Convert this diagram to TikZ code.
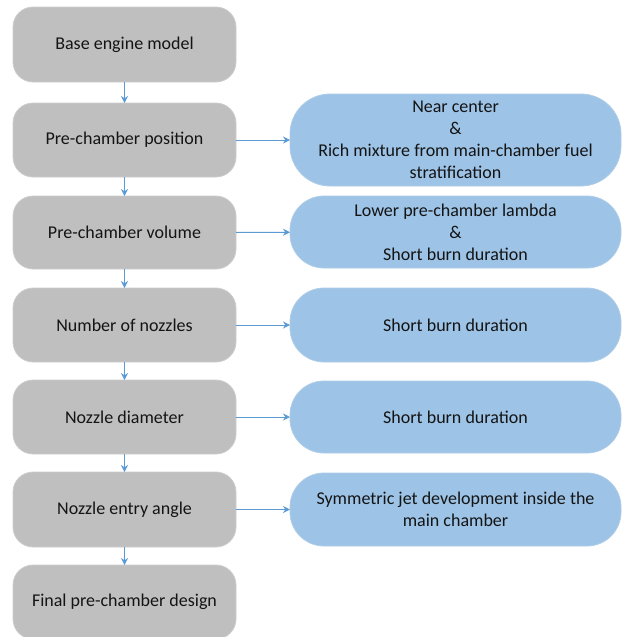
\documentclass[tikz,border=0pt]{standalone}
\usepackage{fontspec}
\setmainfont{Carlito}
\usetikzlibrary{arrows.meta}
\definecolor{boxgray}{RGB}{191,191,191}
\definecolor{edgegray}{RGB}{205,205,205}
\definecolor{boxblue}{RGB}{157,195,230}
\definecolor{edgeblue}{RGB}{175,205,232}
\definecolor{arrowblue}{RGB}{91,155,213}
\definecolor{txt}{RGB}{20,20,20}
\tikzset{
  leftbox/.style={rectangle, rounded corners=20pt, fill=boxgray, draw=edgegray, line width=0.8pt,
    minimum width=223pt, inner sep=0pt, outer sep=0pt, align=center, text=txt,
    font=\fontsize{18}{22}\selectfont},
  rightbox/.style={rectangle, rounded corners=34pt, fill=boxblue, draw=edgeblue, line width=0.8pt,
    minimum width=331pt, inner sep=0pt, outer sep=0pt, align=center, text=txt,
    font=\fontsize{18}{22}\selectfont},
  conn/.style={draw=arrowblue, line width=1pt, -{Stealth[length=7pt,width=7pt]}}
}
\begin{document}
\begin{tikzpicture}[x=1pt,y=-1pt]
\useasboundingbox (0,0) rectangle (621,637);
\node[leftbox, minimum height=75pt] (l1) at (124.5,44.5) {Base engine model};
\node[leftbox, minimum height=74pt] (l2) at (124.5,140) {Pre-chamber position};
\node[leftbox, minimum height=73pt] (l3) at (124.5,232.5) {Pre-chamber volume};
\node[leftbox, minimum height=74pt] (l4) at (124.5,325) {Number of nozzles};
\node[leftbox, minimum height=74pt] (l5) at (124.5,417) {Nozzle diameter};
\node[leftbox, minimum height=75pt] (l6) at (124.5,509.5) {Nozzle entry angle};
\node[leftbox, minimum height=74pt] (l7) at (124.5,602) {Final pre-chamber design};

\node[rightbox, minimum height=92pt, rounded corners=40pt] (r2) at (455.5,140) {Near center\\\&\\Rich mixture from main-chamber fuel\\stratification};
\node[rightbox, minimum height=72pt] (r3) at (455.5,232) {Lower pre-chamber lambda\\\&\\Short burn duration};
\node[rightbox, minimum height=74pt] (r4) at (455.5,325) {Short burn duration};
\node[rightbox, minimum height=72pt] (r5) at (455.5,417) {Short burn duration};
\node[rightbox, minimum height=73pt] (r6) at (455.5,509.5) {Symmetric jet development inside the\\main chamber};

\draw[conn] (l1) -- (l2);
\draw[conn] (l2) -- (l3);
\draw[conn] (l3) -- (l4);
\draw[conn] (l4) -- (l5);
\draw[conn] (l5) -- (l6);
\draw[conn] (l6) -- (l7);
\draw[conn] (l2) -- (r2);
\draw[conn] (l3) -- (r3);
\draw[conn] (l4) -- (r4);
\draw[conn] (l5) -- (r5);
\draw[conn] (l6) -- (r6);
\end{tikzpicture}
\end{document}
